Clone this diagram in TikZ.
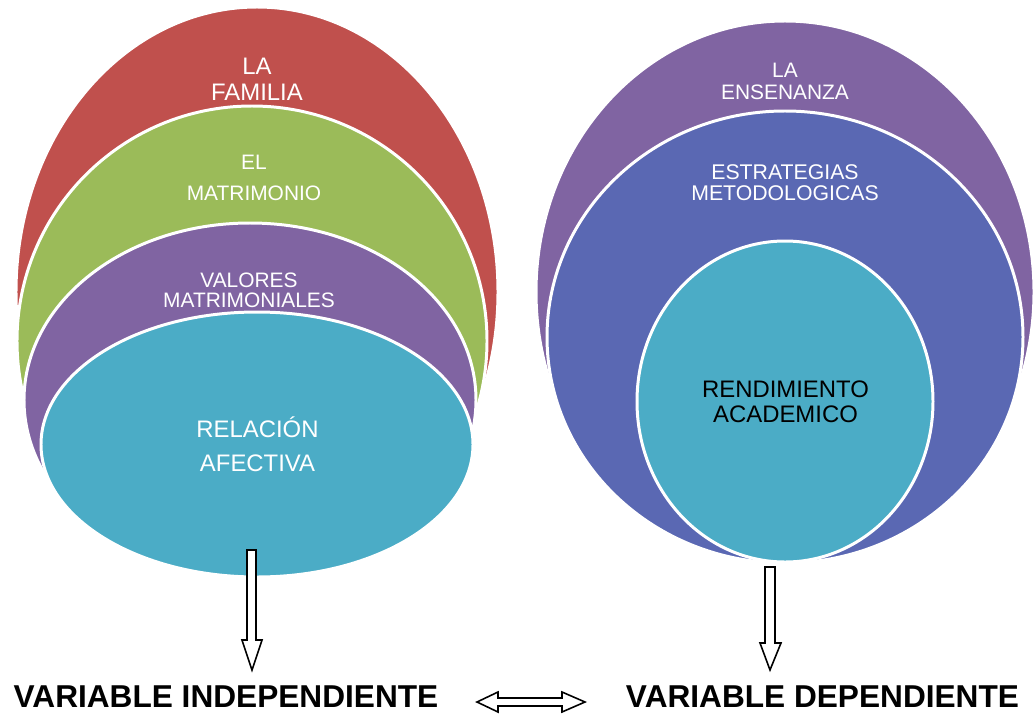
\documentclass[tikz,border=0pt]{standalone}
\usepackage{fontspec}
\setmainfont{Liberation Sans}
\usetikzlibrary{shapes.geometric}
\definecolor{cred}{HTML}{C0504D}
\definecolor{cgreen}{HTML}{9BBB59}
\definecolor{cpurple}{HTML}{8064A2}
\definecolor{ccyan}{HTML}{4BACC6}
\definecolor{cblue}{HTML}{5A68B3}
\tikzset{
  oval/.style={ellipse, draw=white, line width=1.7pt, inner sep=0pt},
  osize/.style 2 args={minimum width={#1*0.02cm}, minimum height={#2*0.02cm}},
  lbl/.style={align=center, inner sep=0pt, text=white},
  varlbl/.style={inner sep=0pt, font=\fontsize{18}{20}\selectfont\bfseries},
  blockarrow/.style={draw=black, fill=white, line width=0.9pt, line join=miter}
}
\begin{document}
\begin{tikzpicture}[x=0.02cm, y=-0.02cm]
\useasboundingbox (0,0) rectangle (1035,717);
% left group
\node[oval, fill=cred, osize={482}{570}] (red) at (257,292) {};
\node[lbl, font=\fontsize{13.6}{14.7}\selectfont] (tfam) at (257,79) {LA\\FAMILIA};
\node[oval, fill=cgreen, osize={470}{470}] (green) at (252,341) {};
\node[lbl, font=\fontsize{11.9}{17.6}\selectfont] (tmat) at (254,177.5) {EL\\MATRIMONIO};
\node[oval, fill=cpurple, osize={452}{354}] (purpL) at (250,400) {};
\node[lbl, font=\fontsize{11.9}{11.3}\selectfont] (tval) at (249,290) {VALORES\\MATRIMONIALES};
\node[oval, fill=ccyan, osize={432}{265}] (cyanL) at (257,444.5) {};
\node[lbl, font=\fontsize{13.6}{19.3}\selectfont] (trel) at (257.5,444) {RELACIÓN\\AFECTIVA};
% right group
\node[oval, fill=cpurple, osize={498}{542}] (purpR) at (785,292) {};
\node[lbl, font=\fontsize{11.9}{12.5}\selectfont] (tens) at (785,81) {LA\\ENSENANZA};
\node[oval, fill=cblue, osize={476}{452}] (blue) at (785,337) {};
\node[lbl, font=\fontsize{12.1}{11.9}\selectfont] (test) at (785,182.5) {ESTRATEGIAS\\METODOLOGICAS};
\node[oval, fill=ccyan, osize={296}{321}] (cyanR) at (785,401.5) {};
\node[lbl, text=black, font=\fontsize{13.6}{14.2}\selectfont] (trend) at (785.5,401.5) {RENDIMIENTO\\ACADEMICO};
% block arrows
\draw[blockarrow] (247,550) -- (256,550) -- (256,640) -- (262,640) -- (252,670) -- (242,640) -- (247,640) -- cycle;
\draw[blockarrow] (765,567) -- (775,567) -- (775,643) -- (781,643) -- (770,670) -- (760,643) -- (765,643) -- cycle;
\draw[blockarrow] (477,702) -- (498,692) -- (498,698) -- (562,698) -- (562,692) -- (585,702) -- (562,712) -- (562,706) -- (498,706) -- (498,712) -- cycle;
% bottom labels
\node[varlbl] (vind) at (226,697) {VARIABLE INDEPENDIENTE};
\node[varlbl] (vdep) at (822.5,697) {VARIABLE DEPENDIENTE};
\end{tikzpicture}
\end{document}
